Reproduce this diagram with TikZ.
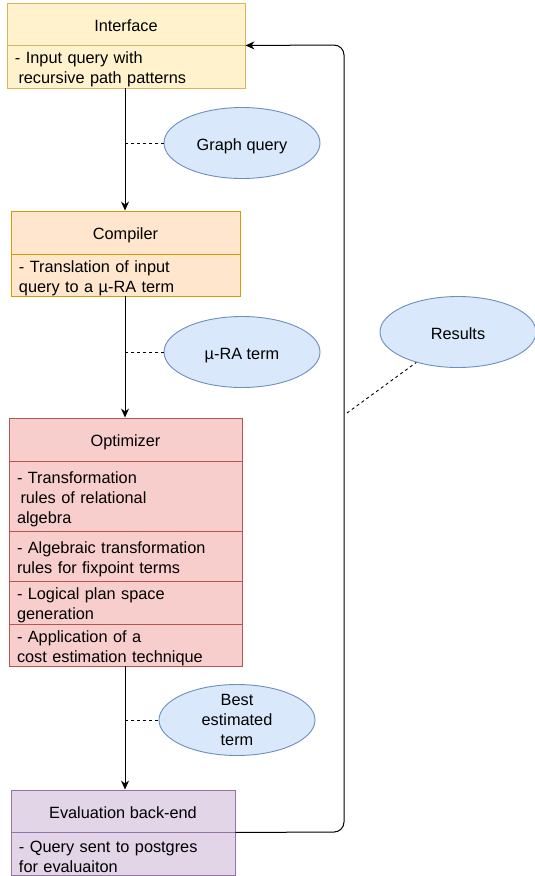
\documentclass[tikz,border=0pt]{standalone}
\usepackage{fontspec}
\setmainfont{Liberation Sans}
\usetikzlibrary{shapes.geometric,arrows.meta}
\definecolor{intfill}{HTML}{FFF2CC}
\definecolor{intline}{HTML}{D6B656}
\definecolor{cmpfill}{HTML}{FFE6CC}
\definecolor{cmpline}{HTML}{D79B00}
\definecolor{optfill}{HTML}{F8CECC}
\definecolor{optline}{HTML}{B85450}
\definecolor{evfill}{HTML}{E1D5E7}
\definecolor{evline}{HTML}{9673A6}
\definecolor{elfill}{HTML}{DAE8FC}
\definecolor{elline}{HTML}{6C8EBF}
\begin{document}
\begin{tikzpicture}[x=1pt, y=-1pt, every node/.style={font=\fontsize{16.3}{20}\selectfont, line width=0.9pt},
	hdr/.style={draw, rectangle, inner sep=0pt, align=center, text height=14pt, text depth=0pt},
	body/.style={draw, rectangle, inner xsep=8pt, inner ysep=0pt, align=left, execute at begin node=\rule{0pt}{18pt}},
	term/.style={draw=elline, fill=elfill, ellipse, inner sep=0pt, minimum width=156pt, minimum height=71pt, align=center},
	arr/.style={-{Stealth[length=9pt,width=8pt]}, line width=1pt}]
				\useasboundingbox (0,0) rectangle (535,876);
				\node[hdr, fill=intfill, draw=intline, minimum width=238pt, minimum height=42pt](intH) at (126,24) {Interface};
				\node[body, fill=intfill, draw=intline, text width=222pt, minimum height=43pt](intB) at (126,66.5) {- Input query with\\\hspace{3.5pt}recursive path patterns};
				\node[hdr, fill=cmpfill, draw=cmpline, minimum width=229pt, minimum height=43pt](cmpH) at (125.5,232.5) {Compiler};
				\node[body, fill=cmpfill, draw=cmpline, text width=213pt, minimum height=42pt](cmpB) at (125.5,275) {- Translation of input\\query to a µ-RA term};
				\node[hdr, fill=optfill, draw=optline, minimum width=233pt, minimum height=43pt](optH) at (125.5,439.5) {Optimizer};
				\node[body, fill=optfill, draw=optline, text width=217pt, minimum height=70pt](optA) at (125.5,496) {- Transformation\\\hspace{3.5pt}rules of relational\\algebra};
				\node[body, fill=optfill, draw=optline, text width=217pt, minimum height=50pt](optB) at (125.5,556) {- Algebraic transformation\\rules for fixpoint terms};
				\node[body, fill=optfill, draw=optline, text width=217pt, minimum height=43pt](optC) at (125.5,602.5) {- Logical plan space\\generation};
				\node[body, fill=optfill, draw=optline, text width=217pt, minimum height=42pt](optD) at (125.5,645) {- Application of a\\cost estimation technique};
				\node[hdr, fill=evfill, draw=evline, minimum width=224pt, minimum height=42pt](evH) at (123,811) {Evaluation back-end};
				\node[body, fill=evfill, draw=evline, text width=208pt, minimum height=43pt](evB) at (123,853.5) {- Query sent to postgres\\for evaluaiton};
				\node[term, text height=14pt, text depth=0pt](gq) at (242,143) {Graph query};
				\node[term, text height=14pt, text depth=0pt](mu) at (242,352) {µ-RA term};
				\node[term, inner ysep=-5pt](best) at (237,720) {Best\\estimated\\term};
				\node[term, text height=14pt, text depth=0pt](res) at (458,332) {Results};
				\coordinate(fb) at (347,413);
				\draw[arr](intB.south -| 125,0) -- (cmpH.north -| 125,0);
				\draw[arr](cmpB.south -| 125,0) -- (optH.north -| 125,0);
				\draw[arr](optD.south -| 125,0) -- (evH.north -| 125,0);
				\draw[dashed, line width=0.9pt](gq.west -| 125,0) -- (gq.west);
				\draw[dashed, line width=0.9pt](mu.west -| 125,0) -- (mu.west);
				\draw[dashed, line width=0.9pt](best.west -| 125,0) -- (best.west);
				\draw[dashed, line width=0.9pt](fb) -- (res);
				\draw[arr, rounded corners=10pt](evH.south east) -- (344,832) -- (344,45) -- (intH.south east);
		\end{tikzpicture}
\end{document}
